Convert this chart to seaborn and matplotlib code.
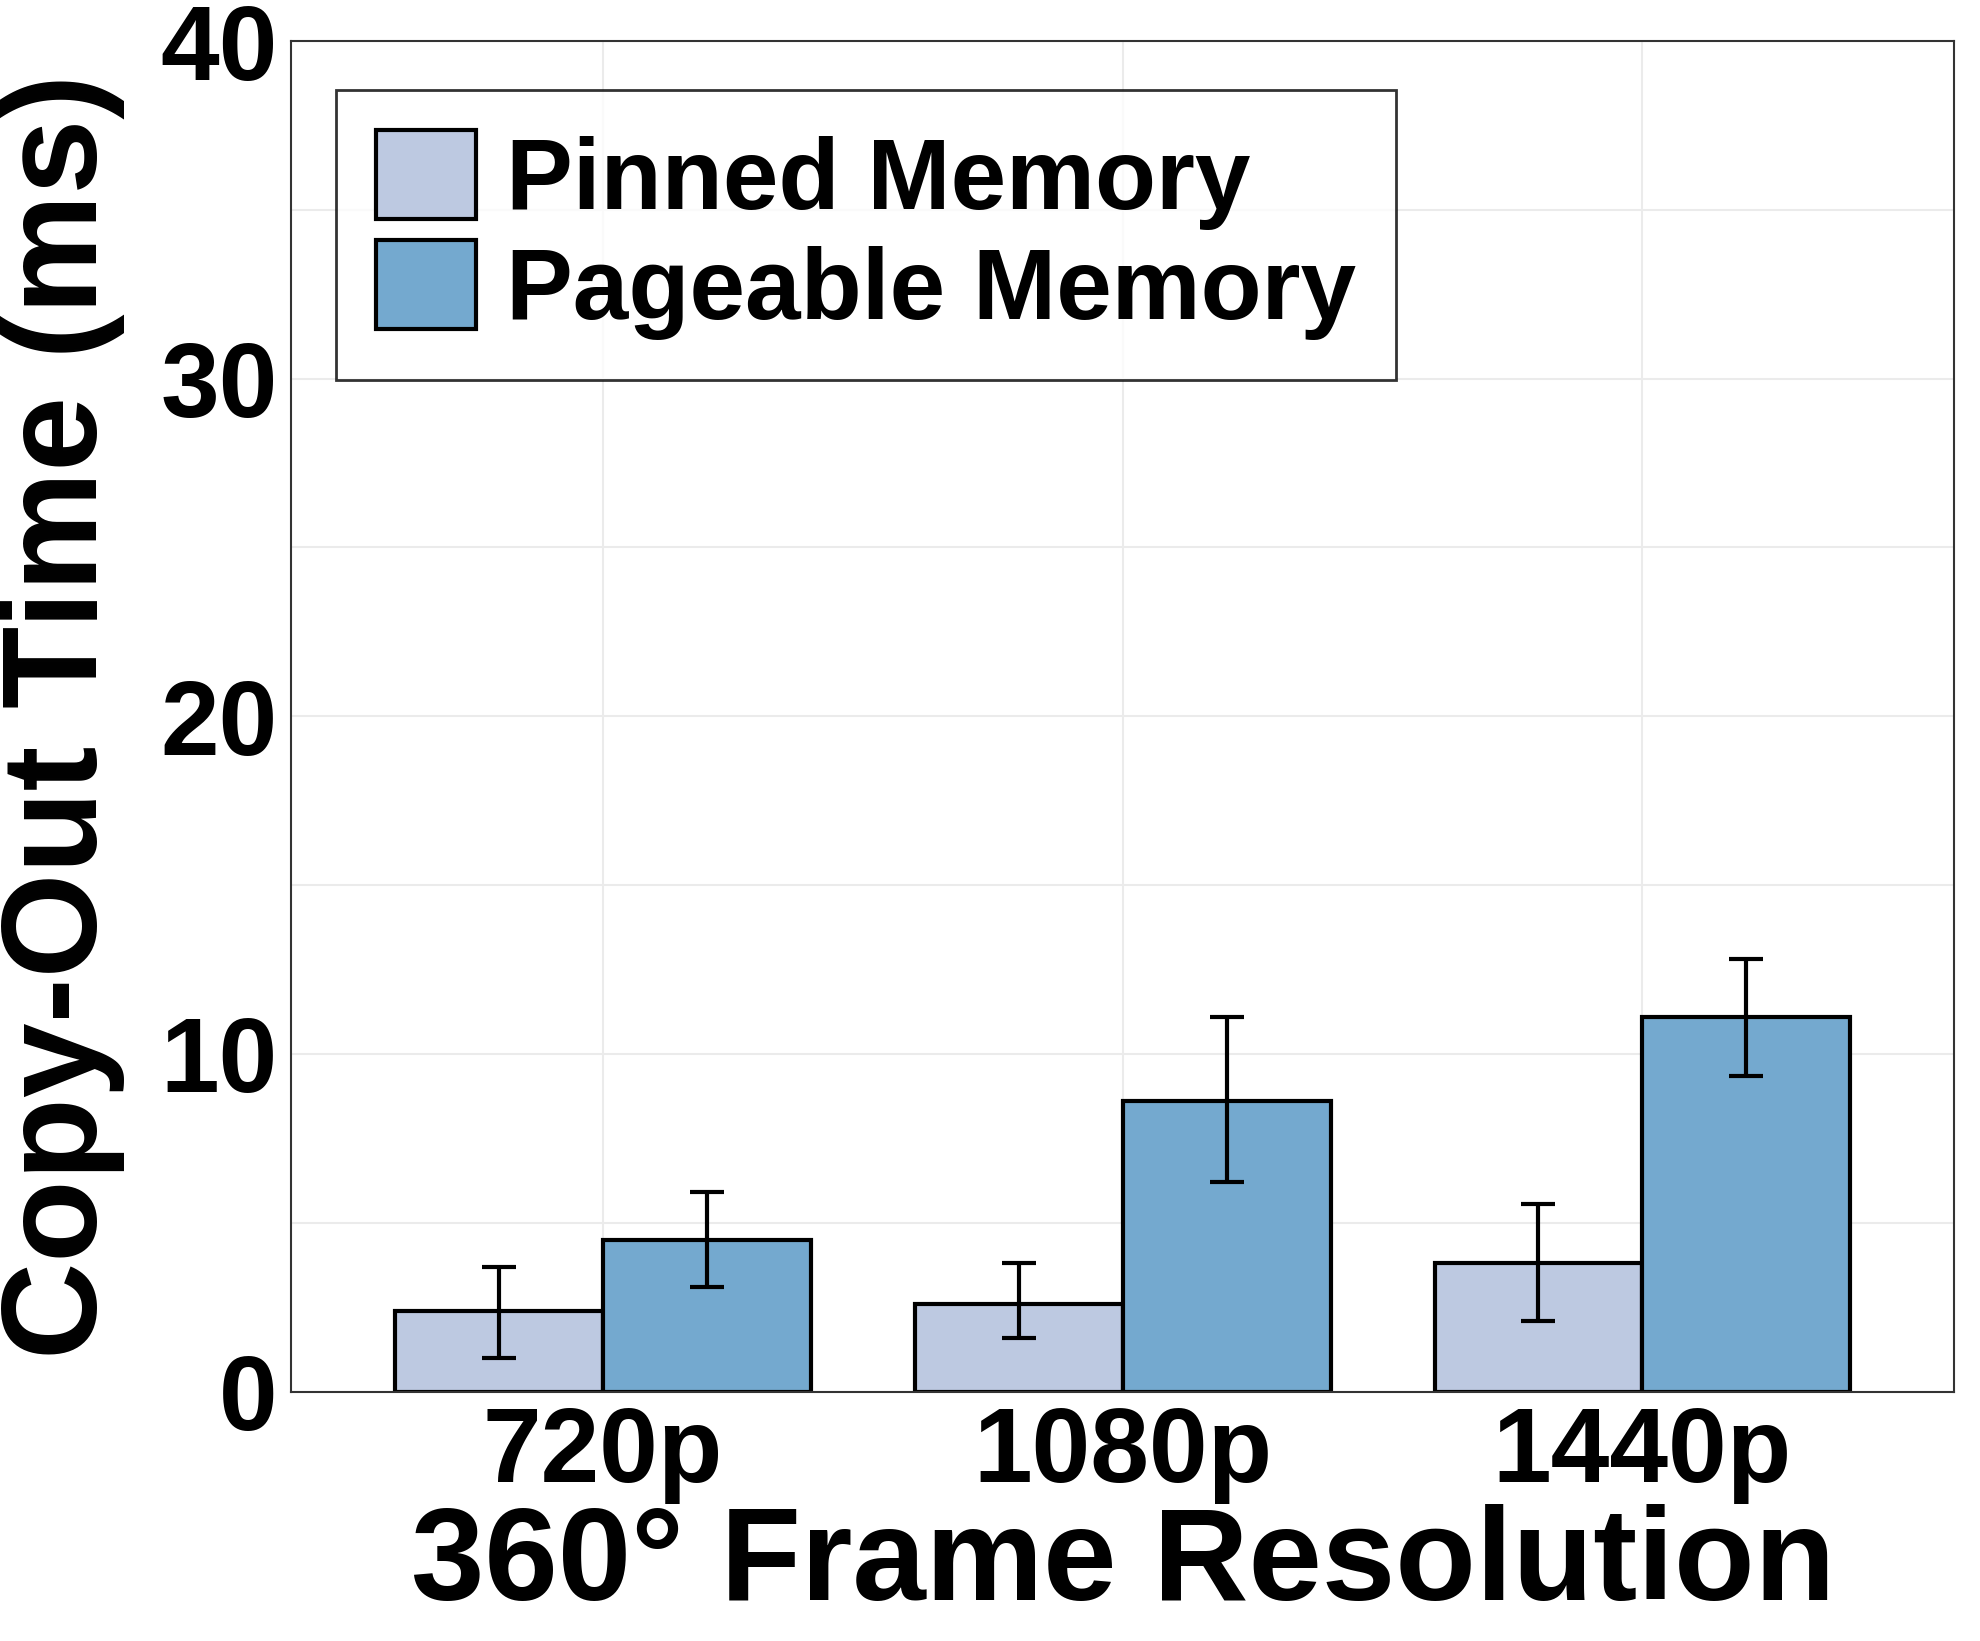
import numpy as np
import pandas as pd
import matplotlib.pyplot as plt
import seaborn as sns

# values
resolutions = ['720p', '1080p', '1440p']
memory_types = ['Pinned Memory', 'Pageable Memory']
pinned = [2.4, 2.6, 3.8]
pinned_lo = [1.0, 1.6, 2.1]
pinned_hi = [3.7, 3.8, 5.55]
pageable = [4.5, 8.6, 11.1]
pageable_lo = [3.1, 6.2, 9.35]
pageable_hi = [5.9, 11.1, 12.8]

df = pd.DataFrame({
    'res': resolutions * 2,
    'mem': [memory_types[0]] * 3 + [memory_types[1]] * 3,
    'time': pinned + pageable,
})

sns.set_style('white')
plt.rcParams['font.family'] = ['Liberation Sans', 'DejaVu Sans']
plt.rcParams['font.weight'] = 'bold'
plt.rcParams['text.color'] = 'black'
plt.rcParams['axes.labelcolor'] = 'black'
plt.rcParams['xtick.color'] = 'black'
plt.rcParams['ytick.color'] = 'black'

fig = plt.figure(figsize=(19.8, 16.41), dpi=100)
ax = fig.add_axes([0.147, 0.152, 0.84, 0.823])

sns.barplot(data=df, x='res', y='time', hue='mem', order=resolutions,
            hue_order=memory_types, palette=['#bdc9e1', '#74a9cf'],
            saturation=1, edgecolor='black', linewidth=3, width=0.8,
            errorbar=None, ax=ax, zorder=2)

x = np.arange(len(resolutions))
for off, vals, lo, hi in [(-0.2, pinned, pinned_lo, pinned_hi),
                          (0.2, pageable, pageable_lo, pageable_hi)]:
    vals = np.array(vals)
    err = [vals - np.array(lo), np.array(hi) - vals]
    ax.errorbar(x + off, vals, yerr=err, fmt='none', ecolor='black',
                elinewidth=3, capsize=12, capthick=3, zorder=3)

ax.set_ylim(0, 40)
ax.set_xlim(-0.6, 2.6)
ax.set_yticks([0, 10, 20, 30, 40])
ax.set_yticks([5, 15, 25, 35], minor=True)
ax.grid(True, which='both', color='#ebebeb', linewidth=1.5, zorder=0)
ax.set_axisbelow(True)
for s in ax.spines.values():
    s.set_color('#333333')
    s.set_linewidth(1.5)

ax.tick_params(axis='both', labelsize=76, length=6, width=1.5, color='#333333')
ax.tick_params(axis='x', pad=4)
ax.tick_params(which='minor', length=0)
ax.set_xlabel('360° Frame Resolution', fontsize=95, fontweight='bold', labelpad=0)
ax.set_ylabel('Copy-Out Time (ms)', fontsize=97, fontweight='bold')
ax.yaxis.set_label_coords(-0.1, 0.5)

leg = ax.legend(loc='upper left', bbox_to_anchor=(0.027, 0.964), fontsize=72,
                frameon=True, fancybox=False, edgecolor='black',
                handlelength=1.0, handleheight=1.0, handletextpad=0.3,
                borderpad=0.4, labelspacing=0.1, borderaxespad=0, title=None)
leg.get_frame().set_linewidth(2)

fig.savefig('out.png', dpi=100)
